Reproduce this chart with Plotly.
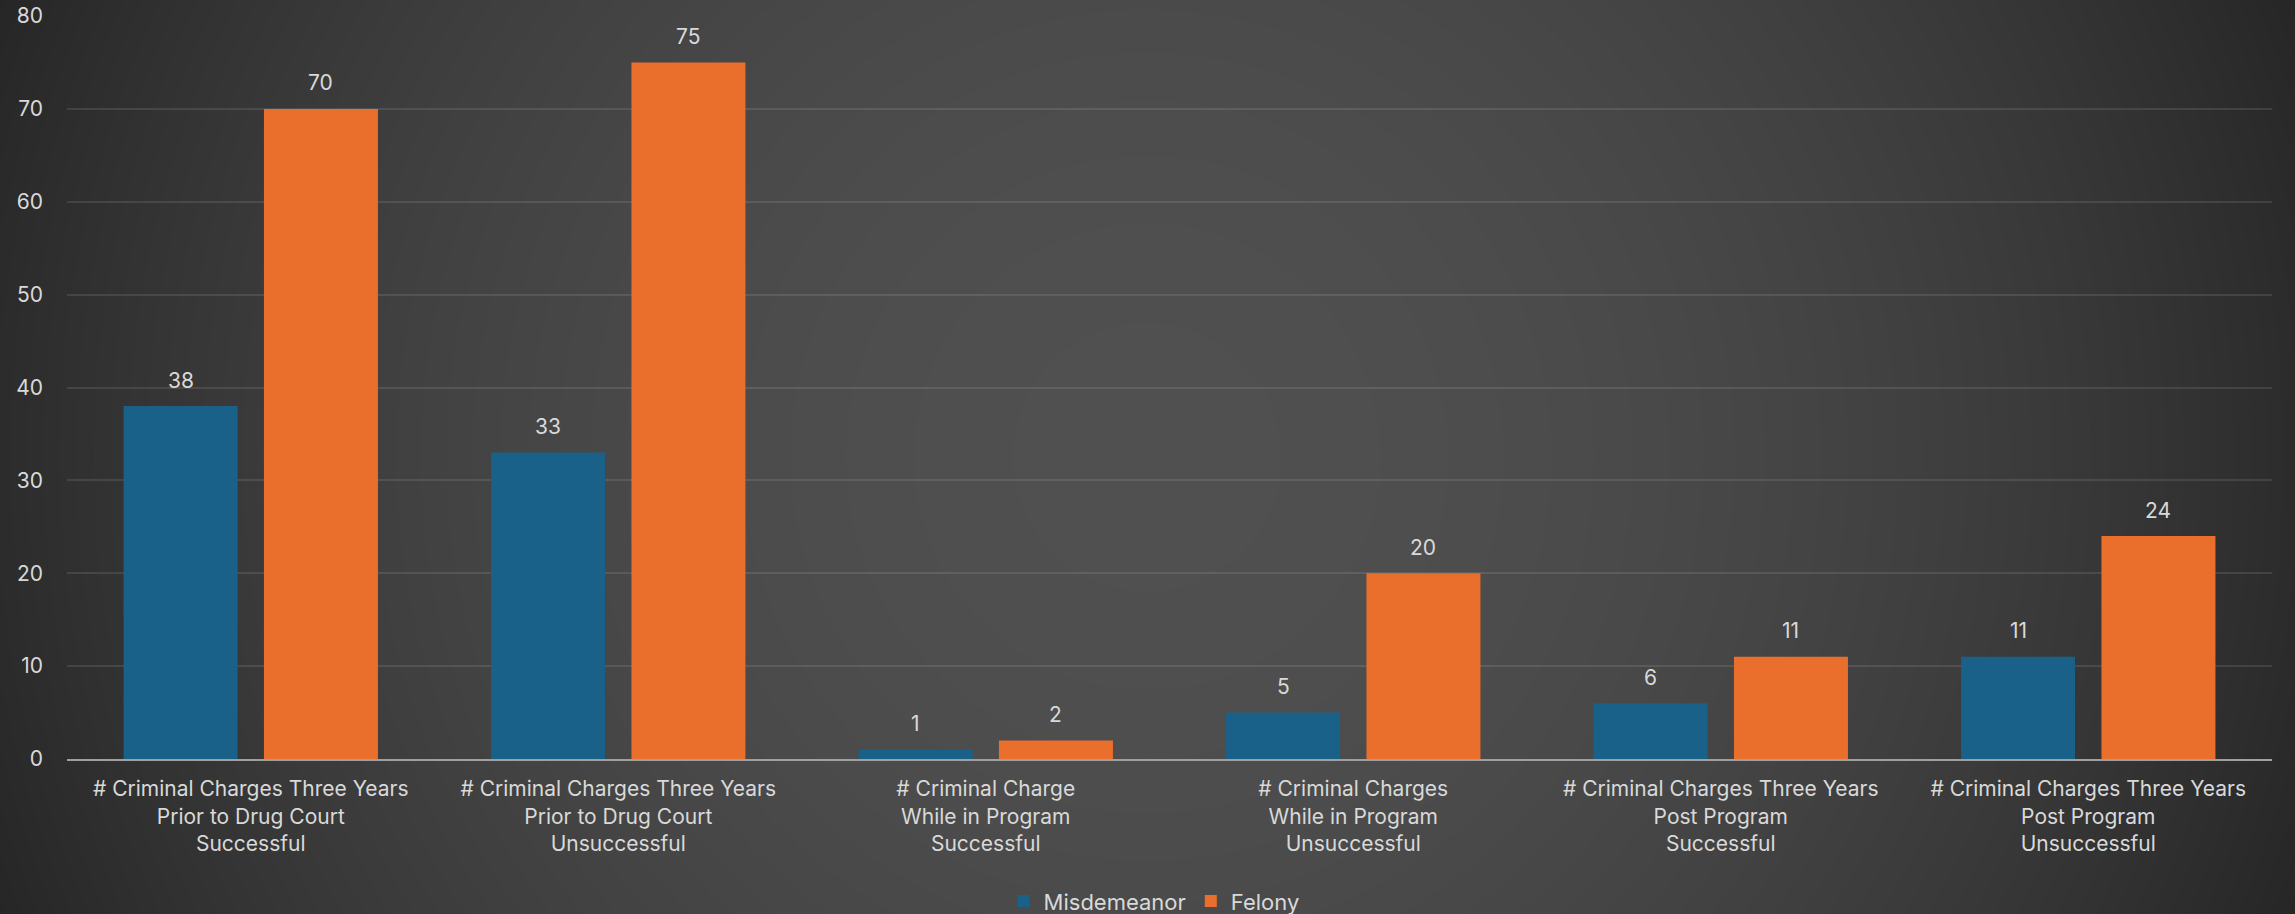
import math
import plotly.graph_objects as go

categories = [
    "# Criminal Charges Three Years<br>Prior to Drug Court<br>Successful",
    "# Criminal Charges Three Years<br>Prior to Drug Court<br>Unsuccessful",
    "# Criminal Charge<br>While in Program<br>Successful",
    "# Criminal Charges<br>While in Program<br>Unsuccessful",
    "# Criminal Charges Three Years<br>Post Program<br>Successful",
    "# Criminal Charges Three Years<br>Post Program<br>Unsuccessful",
]
misdemeanor = [38, 33, 1, 5, 6, 11]
felony = [70, 75, 2, 20, 11, 24]
y_ticks = [0, 10, 20, 30, 40, 50, 60, 70, 80]

FONT = "Inter, Open Sans, sans-serif"
TXT = "#d9d9d9"
W, H = 2295, 914
ML, MR, MT, MB = 67, 23, 16, 155
PW, PH = W - ML - MR, H - MT - MB

fig = go.Figure()
fig.add_trace(go.Bar(
    name="Misdemeanor", x=categories, y=misdemeanor,
    marker=dict(color="#1a6189", line=dict(width=0)),
))
fig.add_trace(go.Bar(
    name="Felony", x=categories, y=felony,
    marker=dict(color="#ea6e2c", line=dict(width=0)),
))

BARGAP, GROUPGAP = 0.236, 0.188
slot_px = PW / len(categories) * (1 - BARGAP) / 2
annotations = []
for vals, sign in ((misdemeanor, -1), (felony, 1)):
    for c, v in zip(categories, vals):
        annotations.append(dict(
            x=c, y=v, xref="x", yref="y", text=str(v), showarrow=False,
            xshift=sign * slot_px / 2, yshift=26, yanchor="middle",
            font=dict(size=21, color=TXT, family=FONT),
        ))

# background radial gradient via stacked solid circles (pixel-based -> paper coords)
cx, cy = 1147, 457
shapes = []
for L in range(39, 81):
    r = 1237 * math.sqrt((80 - L + 0.5) / 42)
    shapes.append(dict(
        type="circle", xref="paper", yref="paper", layer="below",
        x0=(cx - r - ML) / PW, x1=(cx + r - ML) / PW,
        y0=(H - MB - (cy + r)) / PH, y1=(H - MB - (cy - r)) / PH,
        fillcolor=f"rgb({L},{L},{L})", line=dict(width=0),
    ))

fig.update_layout(
    width=W, height=H,
    paper_bgcolor="rgb(38,38,38)", plot_bgcolor="rgba(0,0,0,0)",
    margin=dict(l=ML, r=MR, t=MT, b=MB),
    barmode="group", bargap=BARGAP, bargroupgap=GROUPGAP,
    font=dict(family=FONT, color=TXT, size=21),
    shapes=shapes, annotations=annotations,
    showlegend=True,
    legend=dict(orientation="h", x=0.493, xanchor="center", yref="container",
                y=0.014, yanchor="middle", font=dict(size=22, color=TXT),
                bgcolor="rgba(0,0,0,0)", itemwidth=30, traceorder="normal"),
    xaxis=dict(showgrid=False, showline=True, linecolor="#a0a0a0", linewidth=2,
               ticks="", tickfont=dict(size=21, color=TXT), ticklabelstandoff=10,
               automargin=False),
    yaxis=dict(range=[0, 80], tickvals=y_ticks, showgrid=True,
               gridcolor="rgba(255,255,255,0.1)",
               gridwidth=1.5, zeroline=False, showline=False, ticks="",
               tickfont=dict(size=21, color=TXT), ticklabelstandoff=23,
               automargin=False),
)

fig.write_html("out.html")
